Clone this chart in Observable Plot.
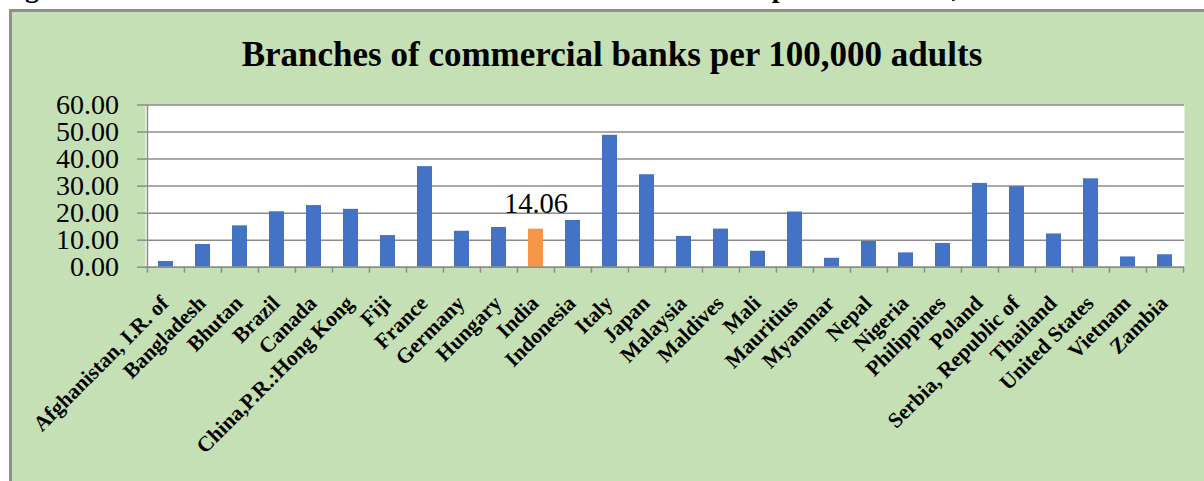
<!DOCTYPE html>
<html>
<head>
<meta charset="utf-8">
<script src="https://cdn.jsdelivr.net/npm/d3@7"></script>
<script src="https://cdn.jsdelivr.net/npm/@observablehq/plot@0.6"></script>
<style>
  html, body { margin: 0; padding: 0; background: #ffffff; width: 1204px; height: 481px; overflow: hidden; position: relative; }
  #caption { position: absolute; left: 0; top: -28px; white-space: nowrap; font: bold 28px "Liberation Serif", serif; color: #000; }
  #box { position: absolute; left: 9px; top: 9px; width: 1195px; height: 472px; box-sizing: border-box;
         border-left: 3px solid #8e8e8e; border-top: 3px solid #8e8e8e; background: #C5E0B4; overflow: hidden; }
  #title { position: absolute; left: 8px; right: 0; top: 23px; text-align: center; line-height: 32px;
           font: bold 35px "Liberation Serif", serif; color: #000; white-space: nowrap; }
  #chart { position: absolute; left: 0; top: 80px; }
  #chart svg { display: block; overflow: visible; }
</style>
</head>
<body>
<div id="caption">Figure 4.4: Number of Branches of Commercial Banks in World per lakh adults, 2019</div>
<div id="box">
  <div id="title">Branches of commercial banks per 100,000 adults</div>
  <div id="chart"></div>
</div>
<script>
const countries = [
  "Afghanistan, I.R. of", "Bangladesh", "Bhutan", "Brazil", "Canada", "China,P.R.:Hong Kong",
  "Fiji", "France", "Germany", "Hungary", "India", "Indonesia", "Italy", "Japan", "Malaysia",
  "Maldives", "Mali", "Mauritius", "Myanmar", "Nepal", "Nigeria", "Philippines", "Poland",
  "Serbia, Republic of", "Thailand", "United States", "Vietnam", "Zambia"
];
const values = [
  2.1, 8.4, 15.3, 20.5, 22.8, 21.4,
  11.7, 37.2, 13.3, 14.7, 14.06, 17.3, 48.8, 34.2, 11.4,
  14.1, 5.9, 20.4, 3.3, 9.5, 5.3, 8.8, 31.0,
  29.8, 12.3, 32.7, 3.8, 4.6
];
const highlight = "India";
const yTicks = [0, 10, 20, 30, 40, 50, 60];

const data = countries.map((c, i) => ({country: c, value: values[i]}));

const W = 1192, H = 389, mL = 133, mR = 20, mT = 12.5, mB = 214.3;
const plotH = H - mT - mB;
const step = (W - mL - mR) / countries.length;
const grey = "#8c8c8c";

const chart = Plot.plot({
  width: W,
  height: H,
  marginLeft: mL,
  marginRight: mR,
  marginTop: mT,
  marginBottom: mB,
  style: {background: "transparent", fontFamily: "'Liberation Serif', serif", color: "#000", overflow: "visible"},
  x: {domain: countries, paddingInner: 0.6, paddingOuter: 0.3, label: null},
  y: {domain: [0, 60], label: null},
  marks: [
    Plot.frame({fill: "#ffffff", stroke: null}),
    Plot.gridY(yTicks, {stroke: grey, strokeOpacity: 1, strokeWidth: 1.5}),
    Plot.axisY({ticks: yTicks, tickFormat: d3.format(".2f"), tickSize: 8, tickPadding: 18.5,
      fontSize: 28, stroke: grey, strokeWidth: 1.5, label: null}),
    // y axis line (left edge), extending below the baseline like the category ticks
    Plot.ruleX(countries.slice(0, 1), {x: d => d, dx: -step / 2, insetTop: 0, insetBottom: -6, stroke: grey, strokeWidth: 1.5}),
    // category separator ticks below the axis
    Plot.ruleX(countries.slice(1), {x: d => d, dx: -step / 2, insetTop: plotH, insetBottom: -6, stroke: grey, strokeWidth: 1.5}),
    Plot.ruleX(countries.slice(-1), {x: d => d, dx: step / 2, insetTop: plotH, insetBottom: -6, stroke: grey, strokeWidth: 1.5}),
    Plot.barY(data.filter(d => d.country !== highlight), {x: "country", y: "value", fill: "#4472C4"}),
    Plot.barY(data.filter(d => d.country === highlight), {x: "country", y: "value", fill: "#F79646"}),
    Plot.ruleY([0], {stroke: grey, strokeWidth: 1.5}),
    Plot.text(data.filter(d => d.country === highlight), {x: "country", y: "value", text: d => d.value.toFixed(2),
      lineAnchor: "bottom", dy: -16, fontSize: 28.5, fill: "#000"}),
    Plot.axisX({tickRotate: -45, tickSize: 0, tickPadding: 32.5, dx: -1, textAnchor: "end", fontSize: 21.5,
      fontWeight: "bold", label: null})
  ]
});

document.getElementById("chart").appendChild(chart);
</script>
</body>
</html>
